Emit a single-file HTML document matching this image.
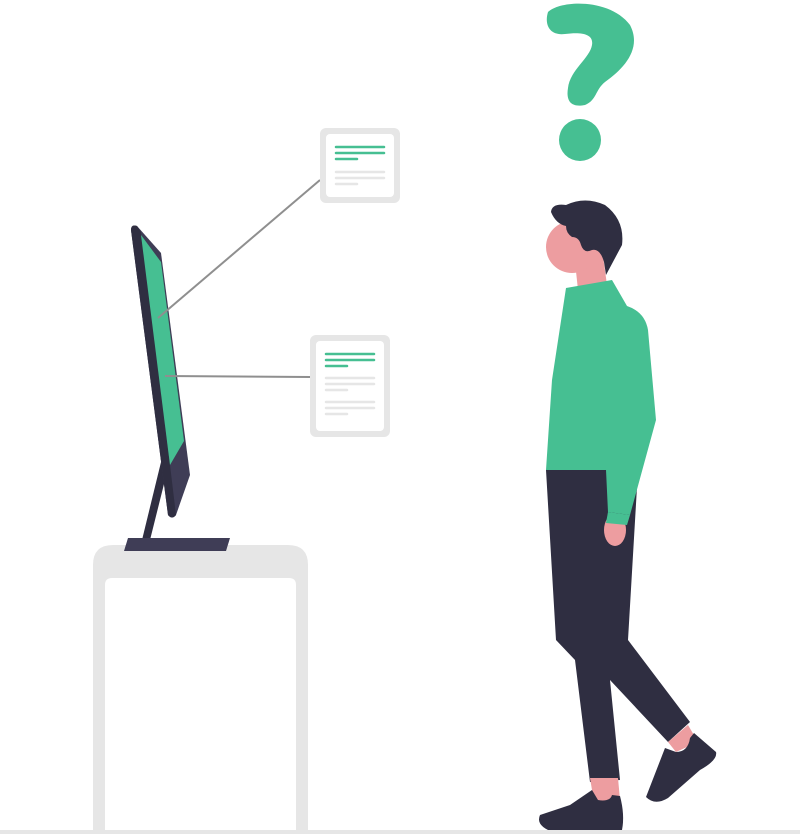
<!DOCTYPE html>
<html><head><meta charset="utf-8"><style>html,body{margin:0;padding:0;background:#fff}svg{display:block}</style></head>
<body>
<svg width="800" height="834" viewBox="0 0 800 834" xmlns="http://www.w3.org/2000/svg">
<!-- table -->
<path d="M93,834 L93,565 Q93,545 113,545 L288,545 Q308,545 308,565 L308,834 Z" fill="#e6e6e6"/>
<path d="M105,834 L105,585 Q105,578 112,578 L289,578 Q296,578 296,585 L296,834 Z" fill="#fff"/>
<rect x="0" y="830" width="800" height="4" fill="#e6e6e6"/>
<!-- monitor -->
<polygon points="162,458 170,460 150,540 142,540" fill="#2f2e41"/>
<polygon points="128,538 230,538 226,551 124,551" fill="#3f3d56"/>
<path d="M131,230 Q131,224 137,226 L161,253 L190,475 L176,515 Q172,520 168,515 Z" fill="#3f3d56"/>
<path d="M131,230 Q131,224 137,226 L141,232 L170,465 L176,515 Q172,520 168,515 Z" fill="#2f2e41"/>
<polygon points="141,235 161,262 184,441 170,465" fill="#46bf92"/>
<!-- connectors -->
<line x1="320" y1="180" x2="158" y2="318" stroke="#8f8f8f" stroke-width="2"/>
<line x1="310" y1="377" x2="165" y2="376" stroke="#8f8f8f" stroke-width="2"/>
<!-- card 1 -->
<rect x="320" y="128" width="80" height="75" rx="6" fill="#e6e6e6"/>
<rect x="326" y="134" width="68" height="63" rx="4" fill="#fff"/>
<g stroke-linecap="round" stroke-width="2.5">
<line x1="336" y1="147" x2="384" y2="147" stroke="#46bf92"/>
<line x1="336" y1="153" x2="384" y2="153" stroke="#46bf92"/>
<line x1="336" y1="159" x2="357" y2="159" stroke="#46bf92"/>
<line x1="336" y1="172" x2="384" y2="172" stroke="#e6e6e6"/>
<line x1="336" y1="178" x2="384" y2="178" stroke="#e6e6e6"/>
<line x1="336" y1="184" x2="357" y2="184" stroke="#e6e6e6"/>
</g>
<!-- card 2 -->
<rect x="310" y="335" width="80" height="102" rx="6" fill="#e6e6e6"/>
<rect x="316" y="341" width="68" height="90" rx="4" fill="#fff"/>
<g stroke-linecap="round" stroke-width="2.5">
<line x1="326" y1="354" x2="374" y2="354" stroke="#46bf92"/>
<line x1="326" y1="360" x2="374" y2="360" stroke="#46bf92"/>
<line x1="326" y1="366" x2="347" y2="366" stroke="#46bf92"/>
<line x1="326" y1="378" x2="374" y2="378" stroke="#e6e6e6"/>
<line x1="326" y1="384" x2="374" y2="384" stroke="#e6e6e6"/>
<line x1="326" y1="390" x2="347" y2="390" stroke="#e6e6e6"/>
<line x1="326" y1="402" x2="374" y2="402" stroke="#e6e6e6"/>
<line x1="326" y1="408" x2="374" y2="408" stroke="#e6e6e6"/>
<line x1="326" y1="414" x2="347" y2="414" stroke="#e6e6e6"/>
</g>
<!-- question mark -->
<path d="M548,12 C560,0 610,-2 630,25 C642,48 625,68 605,82 C595,90 597,100 585,105 C570,108 566,100 568,88 C570,70 590,58 592,45 C594,33 580,32 565,34 C550,36 544,25 548,12Z" fill="#46bf92"/>
<circle cx="580" cy="140" r="21" fill="#46bf92"/>
<!-- person -->
<polygon points="575,262 603,256 607,285 578,290" fill="#ed9da0"/>
<circle cx="572" cy="247" r="26" fill="#ed9da0"/>
<circle cx="594" cy="256" r="10" fill="#ed9da0"/>
<path d="M551,212 Q552,203 566,205 Q585,196 605,205 Q625,220 622,245 L606,275 L604,262 Q600,248 592,250 Q584,254 581,245 Q579,237 572,237 Q566,233 566,226 Q556,224 551,212Z" fill="#2f2e41"/>
<polygon points="546,470 638,470 628,640 690,722 668,742 610,680 620,780 590,782 575,660 556,640" fill="#2f2e41"/>
<polygon points="590,778 618,778 620,800 594,802" fill="#ed9da0"/>
<polygon points="668,742 688,725 698,742 676,752" fill="#ed9da0"/>
<path d="M540,815 L570,805 L592,790 L598,800 Q610,802 612,795 L620,796 Q625,815 622,830 L548,830 Q536,824 540,815Z" fill="#2f2e41"/>
<path d="M665,748 L676,752 Q688,752 690,738 L694,733 L716,752 Q718,760 700,770 L668,798 Q655,806 646,797 Z" fill="#2f2e41"/>
<path d="M566,288 L612,280 L627,306 Q645,312 648,330 L656,420 L630,515 L608,512 L606,470 L546,470 L552,380 Z" fill="#46bf92"/>
<ellipse cx="615" cy="530" rx="11" ry="16" fill="#ed9da0"/>
<polygon points="608,512 630,515 627,525 606,523" fill="#46bf92"/>
</svg>
</body></html>
